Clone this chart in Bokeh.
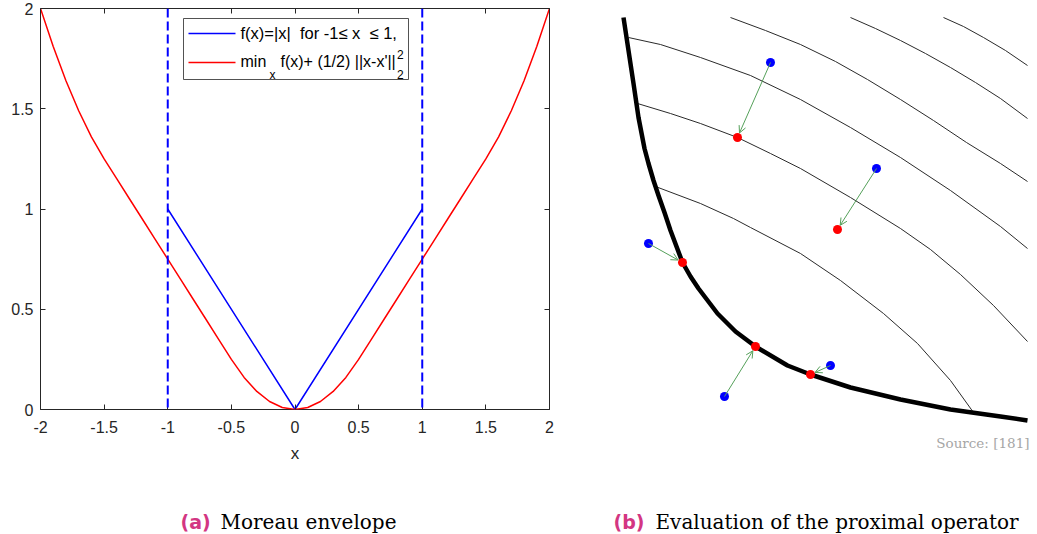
import numpy as np
from bokeh.plotting import figure
from bokeh.models import (Range1d, LinearAxis, FixedTicker, Span, Label,
                          ColumnDataSource, Arrow, OpenHead)
from bokeh.layouts import row, column
from bokeh.embed import file_html
from bokeh.resources import INLINE

# ---------------- data: panel (a) ----------------
x_ticks = [-2, -1.5, -1, -0.5, 0, 0.5, 1, 1.5, 2]
x_tick_labels = ["-2", "-1.5", "-1", "-0.5", "0", "0.5", "1", "1.5", "2"]
y_ticks = [0, 0.5, 1, 1.5, 2]
y_tick_labels = ["0", "0.5", "1", "1.5", "2"]

f_x = [-1.0, 0.0, 1.0]
f_y = [1.0, 0.0, 1.0]
domain_bounds = [-1.0, 1.0]

env_x = [-2.0, -1.9, -1.8, -1.7, -1.6, -1.5, -1.4, -1.3, -1.2, -1.1, -1.0,
         -0.9, -0.8, -0.7, -0.6, -0.5, -0.4, -0.3, -0.2, -0.1, 0.0,
         0.1, 0.2, 0.3, 0.4, 0.5, 0.6, 0.7, 0.8, 0.9, 1.0,
         1.1, 1.2, 1.3, 1.4, 1.5, 1.6, 1.7, 1.8, 1.9, 2.0]
env_y = [2.00, 1.81, 1.64, 1.49, 1.36, 1.25, 1.15, 1.05, 0.95, 0.85, 0.75,
         0.65, 0.55, 0.45, 0.35, 0.25, 0.16, 0.09, 0.04, 0.01, 0.00,
         0.01, 0.04, 0.09, 0.16, 0.25, 0.35, 0.45, 0.55, 0.65, 0.75,
         0.85, 0.95, 1.05, 1.15, 1.25, 1.36, 1.49, 1.64, 1.81, 2.00]

legend_text_1 = "f(x)=|x|\u00a0\u00a0for -1\u2264\u00a0x\u00a0\u00a0\u2264\u00a01,"
legend_text_2a = "min"
legend_text_2b = "x"
legend_text_2c = "f(x)+ (1/2) ||x-x'||"
legend_text_2d = "2"

caption_a_tag = "(a)"
caption_a = "Moreau envelope"
caption_b_tag = "(b)"
caption_b = "Evaluation of the proximal operator"
source_text = "Source: [181]"

# ---------------- data: panel (b) (read in page pixels) ----------------
boundary_x = [623, 628, 633, 638, 644, 648, 653, 658, 664, 670, 676, 682, 690, 698,
              717, 735, 755, 787, 810, 850, 900, 950, 1000, 1027]
boundary_y = [17, 50, 83, 117, 148, 163, 180, 195, 212, 230, 246, 262, 276, 288,
              313, 331, 346, 365, 374, 387, 399, 409, 416, 420]

level_f_x = [943, 963, 983, 1005, 1027]
level_f_y = [17, 26, 37, 50, 65]
level_e_x = [850, 875, 900, 925, 950, 975, 1000, 1027]
level_e_y = [17, 28, 40, 53, 67, 82, 98, 118]
level_d_x = [730, 765, 800, 835, 867, 900, 933, 966, 1000, 1027]
level_d_y = [17, 30, 44, 61, 79, 99, 120, 142, 163, 181]
level_a_x = [628, 660, 700, 750, 800, 850, 900, 950, 1000, 1027]
level_a_y = [37, 44, 57, 75, 99, 127, 157, 190, 226, 248]
level_b_x = [637, 670, 700, 737, 770, 800, 850, 900, 930, 960, 993, 1027]
level_b_y = [103, 113, 123, 137, 153, 168, 197, 228, 249, 274, 305, 341]
level_c_x = [655, 700, 733, 750, 800, 840, 883, 917, 950, 973]
level_c_y = [186, 203, 218, 227, 253, 280, 313, 343, 380, 412]

start_x = [770, 876, 648, 724, 830]
start_y = [62, 168, 243, 396, 365]
prox_x = [737, 837, 682, 755, 810]
prox_y = [137, 229, 262, 346, 374]

# ---------------- styles ----------------
AX = "#262626"
SANS = "Liberation Sans"
SERIF = "DejaVu Serif"
MAGENTA = "#d33682"
GREEN = "#55a05a"


def no_align(p):
    try:
        p.frame_align = False
    except Exception:
        pass


def lab(fig, x, y, text, size, font=SANS, color="black", style="normal",
        align="left", baseline="middle"):
    fig.add_layout(Label(x=x, y=y, text=text, text_font=font, text_font_size=size,
                         text_color=color, text_font_style=style, text_align=align,
                         text_baseline=baseline))


# ---------------- panel (a) ----------------
FL, FR, FT, FB = 40, 549, 8, 409
W1, H1, HCAP = 590, 480, 54
p1 = figure(width=W1, height=H1, x_range=Range1d(-2, 2), y_range=Range1d(0, 2),
            x_axis_type=None, y_axis_type=None, output_backend="svg",
            toolbar_location=None, min_border_left=FL, min_border_right=W1 - FR,
            min_border_top=FT, min_border_bottom=H1 - FB)
no_align(p1)
p1.outline_line_color = AX
p1.outline_line_width = 1
p1.background_fill_color = "white"
p1.border_fill_color = "white"


def px_x(px):
    return (px - FL) / (FR - FL) * 4 - 2


def px_y(py):
    return (FB - py) / (FB - FT) * 2


def make_axis(ticks, labels, show, standoff):
    ax = LinearAxis(ticker=FixedTicker(ticks=ticks))
    ax.major_label_overrides = {t: (l if show else "") for t, l in zip(ticks, labels)}
    ax.axis_line_color = None
    ax.major_tick_line_color = AX
    ax.major_tick_in = 5
    ax.major_tick_out = 0
    ax.minor_tick_line_color = None
    ax.major_label_text_font = SANS
    ax.major_label_text_font_size = "16px" if show else "0px"
    ax.major_label_text_color = AX
    ax.major_label_standoff = standoff if show else 0
    return ax


bottom = make_axis(x_ticks, x_tick_labels, True, 11)
bottom.axis_label = "x"
bottom.axis_label_text_font = SANS
bottom.axis_label_text_font_size = "17px"
bottom.axis_label_text_font_style = "normal"
bottom.axis_label_text_color = AX
bottom.axis_label_standoff = 8
p1.add_layout(bottom, "below")
p1.add_layout(make_axis(y_ticks, y_tick_labels, True, 7), "left")
p1.add_layout(make_axis(x_ticks, x_tick_labels, False, 0), "above")
p1.add_layout(make_axis(y_ticks, y_tick_labels, False, 0), "right")

p1.line(f_x, f_y, line_color="#0000ff", line_width=1.5)
for b in domain_bounds:
    p1.add_layout(Span(location=b, dimension="height", line_color="#0000ff",
                       line_width=2, line_dash="9 4"))
p1.line(env_x, env_y, line_color="#ff0000", line_width=1.5)

# legend (drawn by hand so that sub/superscripts can be placed)
p1.quad(left=px_x(183), right=px_x(408), top=px_y(18), bottom=px_y(79),
        fill_color="white", line_color=AX, line_width=0.8)
p1.segment(x0=px_x(188), x1=px_x(235), y0=px_y(33), y1=px_y(33),
           line_color="#0000ff", line_width=1.5)
p1.segment(x0=px_x(188), x1=px_x(235), y0=px_y(62), y1=px_y(62),
           line_color="#ff0000", line_width=1.5)

lab(p1, px_x(240), px_y(32), legend_text_1, "16.5px")
lab(p1, px_x(240), px_y(61), legend_text_2a, "16px")
lab(p1, px_x(269), px_y(74), legend_text_2b, "12px")
lab(p1, px_x(280), px_y(61), legend_text_2c, "16px")
lab(p1, px_x(396.5), px_y(54), legend_text_2d, "12px")
lab(p1, px_x(396.5), px_y(74), legend_text_2d, "12px")

# ---------------- caption strip under panel (a) ----------------
p3 = figure(frame_width=W1, frame_height=HCAP, x_range=Range1d(0, W1),
            y_range=Range1d(H1 + HCAP, H1), x_axis_type=None, y_axis_type=None,
            output_backend="svg", toolbar_location=None, min_border=0)
no_align(p3)
p3.outline_line_color = None
p3.background_fill_color = "white"
p3.border_fill_color = "white"
lab(p3, 180, 521, caption_a_tag, "19px", font="DejaVu Sans",
    color=MAGENTA, style="bold", baseline="alphabetic")
lab(p3, 220, 521, caption_a, "20px", font=SERIF, baseline="alphabetic")

# ---------------- panel (b) ----------------
W2 = 1037 - W1
H2 = H1 + HCAP
p2 = figure(frame_width=W2, frame_height=H2, x_range=Range1d(W1, 1037),
            y_range=Range1d(H2, 0), x_axis_type=None, y_axis_type=None,
            output_backend="svg", toolbar_location=None, min_border=0)
no_align(p2)
p2.outline_line_color = None
p2.background_fill_color = "white"
p2.border_fill_color = "white"

for lx, ly in [(level_f_x, level_f_y), (level_e_x, level_e_y), (level_d_x, level_d_y),
               (level_a_x, level_a_y), (level_b_x, level_b_y), (level_c_x, level_c_y)]:
    p2.line(lx, ly, line_color="#2a2a2a", line_width=1, line_join="round")

p2.line(boundary_x, boundary_y, line_color="black", line_width=4.5, line_join="round")

sx, sy = np.array(start_x, float), np.array(start_y, float)
ex, ey = np.array(prox_x, float), np.array(prox_y, float)
d = np.hypot(sx - ex, sy - ey)
gap = 5.0
arrow_src = ColumnDataSource(dict(x0=sx, y0=sy,
                                  x1=ex + (sx - ex) / d * gap,
                                  y1=ey + (sy - ey) / d * gap))
p2.add_layout(Arrow(source=arrow_src, x_start="x0", y_start="y0", x_end="x1", y_end="y1",
                    line_color=GREEN, line_width=1,
                    end=OpenHead(size=7, line_color=GREEN, line_width=1)))

p2.scatter(start_x, start_y, size=9, fill_color="#0000ff", line_color=None)
p2.scatter(prox_x, prox_y, size=9, fill_color="#ff0000", line_color=None)

lab(p2, 1029, 442, source_text, "13.5px", font=SERIF, color="#a6a6a6",
    align="right", baseline="alphabetic")
lab(p2, 613, 521, caption_b_tag, "19px", font="DejaVu Sans", color=MAGENTA,
    style="bold", baseline="alphabetic")
lab(p2, 655, 521, caption_b, "20px", font=SERIF, baseline="alphabetic")

layout = row(column(p1, p3), p2)
open("out.html", "w").write(file_html(layout, INLINE))
